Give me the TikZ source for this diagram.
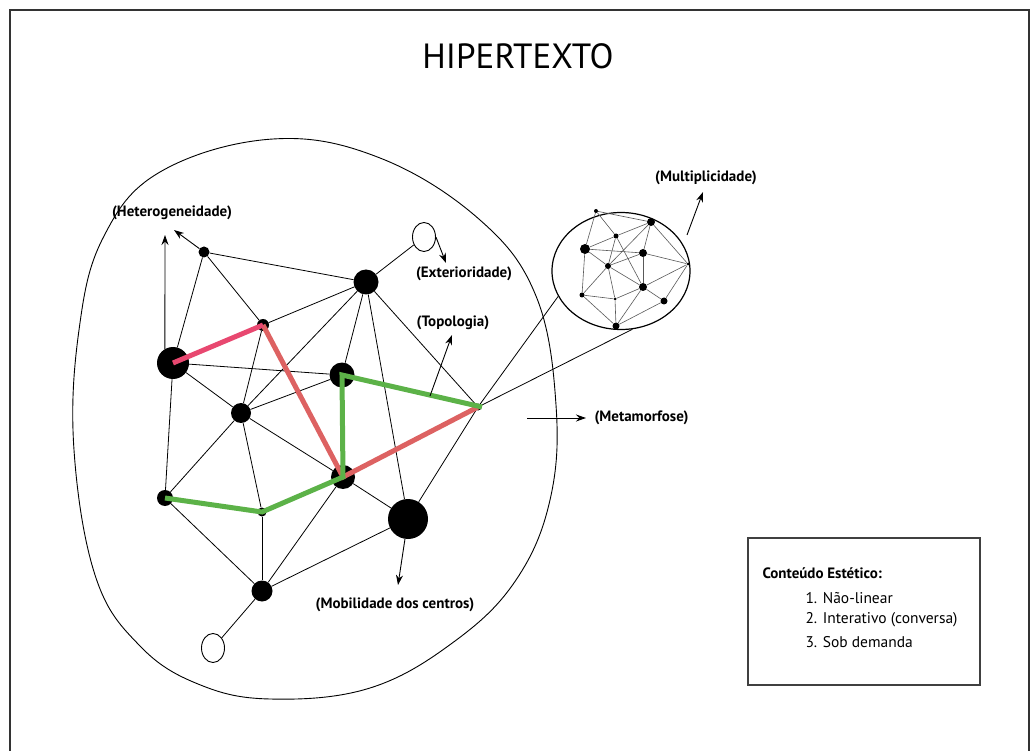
\documentclass[tikz,border=0pt]{standalone}
\usepackage{fontspec}
\setmainfont{PT Sans}
\usetikzlibrary{arrows.meta,shapes.geometric}

\definecolor{pinkline}{RGB}{232,72,112}
\definecolor{redline}{RGB}{221,98,98}
\definecolor{greenline}{RGB}{92,178,72}

\begin{document}
\begin{tikzpicture}[x=1pt,y=-1pt,
        vtx/.style={circle,fill=black,inner sep=0pt,minimum size=#1},
        hole/.style={draw,ellipse,inner sep=0pt,minimum width=23pt,minimum height=29pt,line width=0.9pt},
        link/.style={line width=0.8pt},
        fine/.style={line width=0.6pt,black!65},
        arr/.style={line width=0.9pt,-{Stealth[length=10pt,width=7pt]}},
        lbl/.style={font=\bfseries\fontsize{15}{17}\selectfont},
        itm/.style={anchor=west,font=\fontsize{15.5}{18}\selectfont},
        pathline/.style={line width=5pt,#1}]
                              \useasboundingbox (0,0) rectangle (1031,751);
                              \draw[line width=1.8pt,black!80] (10,760) -- (10,10) -- (1029,10) -- (1029,760);

                              \node[font=\fontsize{35}{40}\selectfont] (title) at (518,56) {HIPERTEXTO};

                              \draw[line width=0.9pt] plot[smooth cycle,tension=0.65] coordinates {(74,450) (79,330) (103,238) (160,172) (273,139) (380,158) (480,220) (536,296) (556,405) (550,500) (516,580) (455,641) (370,688) (270,699) (198,684) (140,646) (96,578)};

                              \node[vtx=11pt] (A) at (204,252) {};
                              \node[vtx=25pt] (B) at (366,282) {};
                              \node[vtx=12pt] (C) at (263,325) {};
                              \node[vtx=32pt] (D) at (173,363) {};
                              \node[vtx=25pt] (E) at (342,375) {};
                              \node[vtx=20pt] (F) at (241,413) {};
                              \node[vtx=7pt] (G) at (478,407) {};
                              \node[vtx=24pt] (H) at (343,477) {};
                              \node[vtx=16pt] (I) at (165,498) {};
                              \node[vtx=9pt] (J) at (262,512) {};
                              \node[vtx=40pt] (K) at (408,519) {};
                              \node[vtx=21pt] (L) at (262,591) {};
                              \node[hole] (X1) at (424,237) {};
                              \node[hole] (X2) at (213,648) {};

                              \draw[link] (A) -- (B);
                              \draw[link] (A) -- (C);
                              \draw[link] (A) -- (D);
                              \draw[link] (B) -- (C);
                              \draw[link] (B) -- (E);
                              \draw[link] (B) -- (F);
                              \draw[link] (B) -- (G);
                              \draw[link] (B) -- (K);
                              \draw[link] (B) -- (X1);
                              \draw[link] (C) -- (F);
                              \draw[link] (D) -- (E);
                              \draw[link] (D) -- (F);
                              \draw[link] (D) -- (I);
                              \draw[link] (E) -- (F);
                              \draw[link] (F) -- (I);
                              \draw[link] (F) -- (J);
                              \draw[link] (F) -- (H);
                              \draw[link] (I) -- (L);
                              \draw[link] (J) -- (L);
                              \draw[link] (H) -- (L);
                              \draw[link] (H) -- (K);
                              \draw[link] (K) -- (L);
                              \draw[link] (G) -- (K);
                              \draw[link] (L) -- (X2);

                              \node[draw,ellipse,line width=1.2pt,inner sep=0pt,minimum width=138pt,minimum height=117pt] (M) at (621,271) {};
                              \node[vtx=4pt] (M1) at (596,211) {};
                              \node[vtx=8pt] (M2) at (651,222) {};
                              \node[vtx=5pt] (M3) at (616,236) {};
                              \node[vtx=10pt] (M4) at (585,249) {};
                              \node[vtx=8pt] (M5) at (643,253) {};
                              \node[vtx=6pt] (M6) at (608,266) {};
                              \node[vtx=3pt] (M7) at (688,264) {};
                              \node[vtx=8pt] (M8) at (643,287) {};
                              \node[vtx=5pt] (M9) at (582,295) {};
                              \node[vtx=3pt] (M10) at (615,299) {};
                              \node[vtx=7pt] (M11) at (664,301) {};
                              \node[vtx=7pt] (M12) at (616,326) {};

                              \draw[fine] (M1) -- (M2);
                              \draw[fine] (M1) -- (M3);
                              \draw[fine] (M1) -- (M4);
                              \draw[fine] (M2) -- (M3);
                              \draw[fine] (M2) -- (M5);
                              \draw[fine] (M2) -- (M6);
                              \draw[fine] (M2) -- (M7);
                              \draw[fine] (M3) -- (M4);
                              \draw[fine] (M3) -- (M6);
                              \draw[fine] (M3) -- (M8);
                              \draw[fine] (M4) -- (M5);
                              \draw[fine] (M4) -- (M6);
                              \draw[fine] (M4) -- (M9);
                              \draw[fine] (M5) -- (M6);
                              \draw[fine] (M5) -- (M7);
                              \draw[fine] (M5) -- (M8);
                              \draw[fine] (M6) -- (M8);
                              \draw[fine] (M6) -- (M9);
                              \draw[fine] (M6) -- (M10);
                              \draw[fine] (M7) -- (M8);
                              \draw[fine] (M7) -- (M11);
                              \draw[fine] (M8) -- (M10);
                              \draw[fine] (M8) -- (M11);
                              \draw[fine] (M8) -- (M12);
                              \draw[fine] (M9) -- (M10);
                              \draw[fine] (M9) -- (M12);
                              \draw[fine] (M10) -- (M12);
                              \draw[fine] (M11) -- (M12);

                              \draw[link] (G) -- (M.202);
                              \draw[link] (G) -- (M.281);

                              \draw[pathline=redline] (C.center) -- (H.center) -- (G.center);
                              \draw[pathline=greenline] (I.center) -- (J.center) -- (H.center) -- (E.center) -- ([xshift=4pt]G.center);
                              \draw[pathline=pinkline] (D.center) -- (C.center);

                              \node[lbl] (hetLabel) at (172,213) {(Heterogeneidade)};
                              \node[lbl] (extLabel) at (464,274) {(Exterioridade)};
                              \node[lbl] (topLabel) at (453,323) {(Topologia)};
                              \node[lbl] (multLabel) at (706,178) {(Multiplicidade)};
                              \node[lbl,anchor=west] (metaLabel) at (591,418) {(Metamorfose)};
                              \node[lbl] (mobLabel) at (395,605) {(Mobilidade dos centros)};

                              \coordinate (hetTipA) at (165,235);
                              \coordinate (hetTipB) at (174,230);
                              \coordinate (extTip) at (446,263);
                              \coordinate (topoFoot) at (430,396);
                              \coordinate (topoTip) at (452,335);
                              \coordinate (metaFoot) at (527,418);
                              \coordinate (mobTip) at (398,585);
                              \coordinate (multFoot) at (687,235);
                              \coordinate (multTip) at (703,192);

                              \draw[arr] (D.120) -- (hetTipA);
                              \draw[arr] (A) -- (hetTipB);
                              \draw[arr] (X1.east) -- (extTip);
                              \draw[arr] (topoFoot) -- (topoTip);
                              \draw[arr,shorten >=5pt] (metaFoot) -- (metaLabel.west);
                              \draw[arr] (K) -- (mobTip);
                              \draw[arr] (multFoot) -- (multTip);

                              \node[draw=black!75,line width=1.2pt,inner sep=0pt,minimum width=232pt,minimum height=147pt] (box) at (864,611.5) {};
                              \node[anchor=west,font=\bfseries\fontsize{15}{17}\selectfont] (boxTitle) at (759,573) {Conteúdo Estético:};
                              \node[itm] (item1) at (802,598) {1. Não-linear};
                              \node[itm] (item2) at (802,620) {2. Interativo (conversa)};
                              \node[itm] (item3) at (802,642) {3. Sob demanda};
                      \end{tikzpicture}
\end{document}
